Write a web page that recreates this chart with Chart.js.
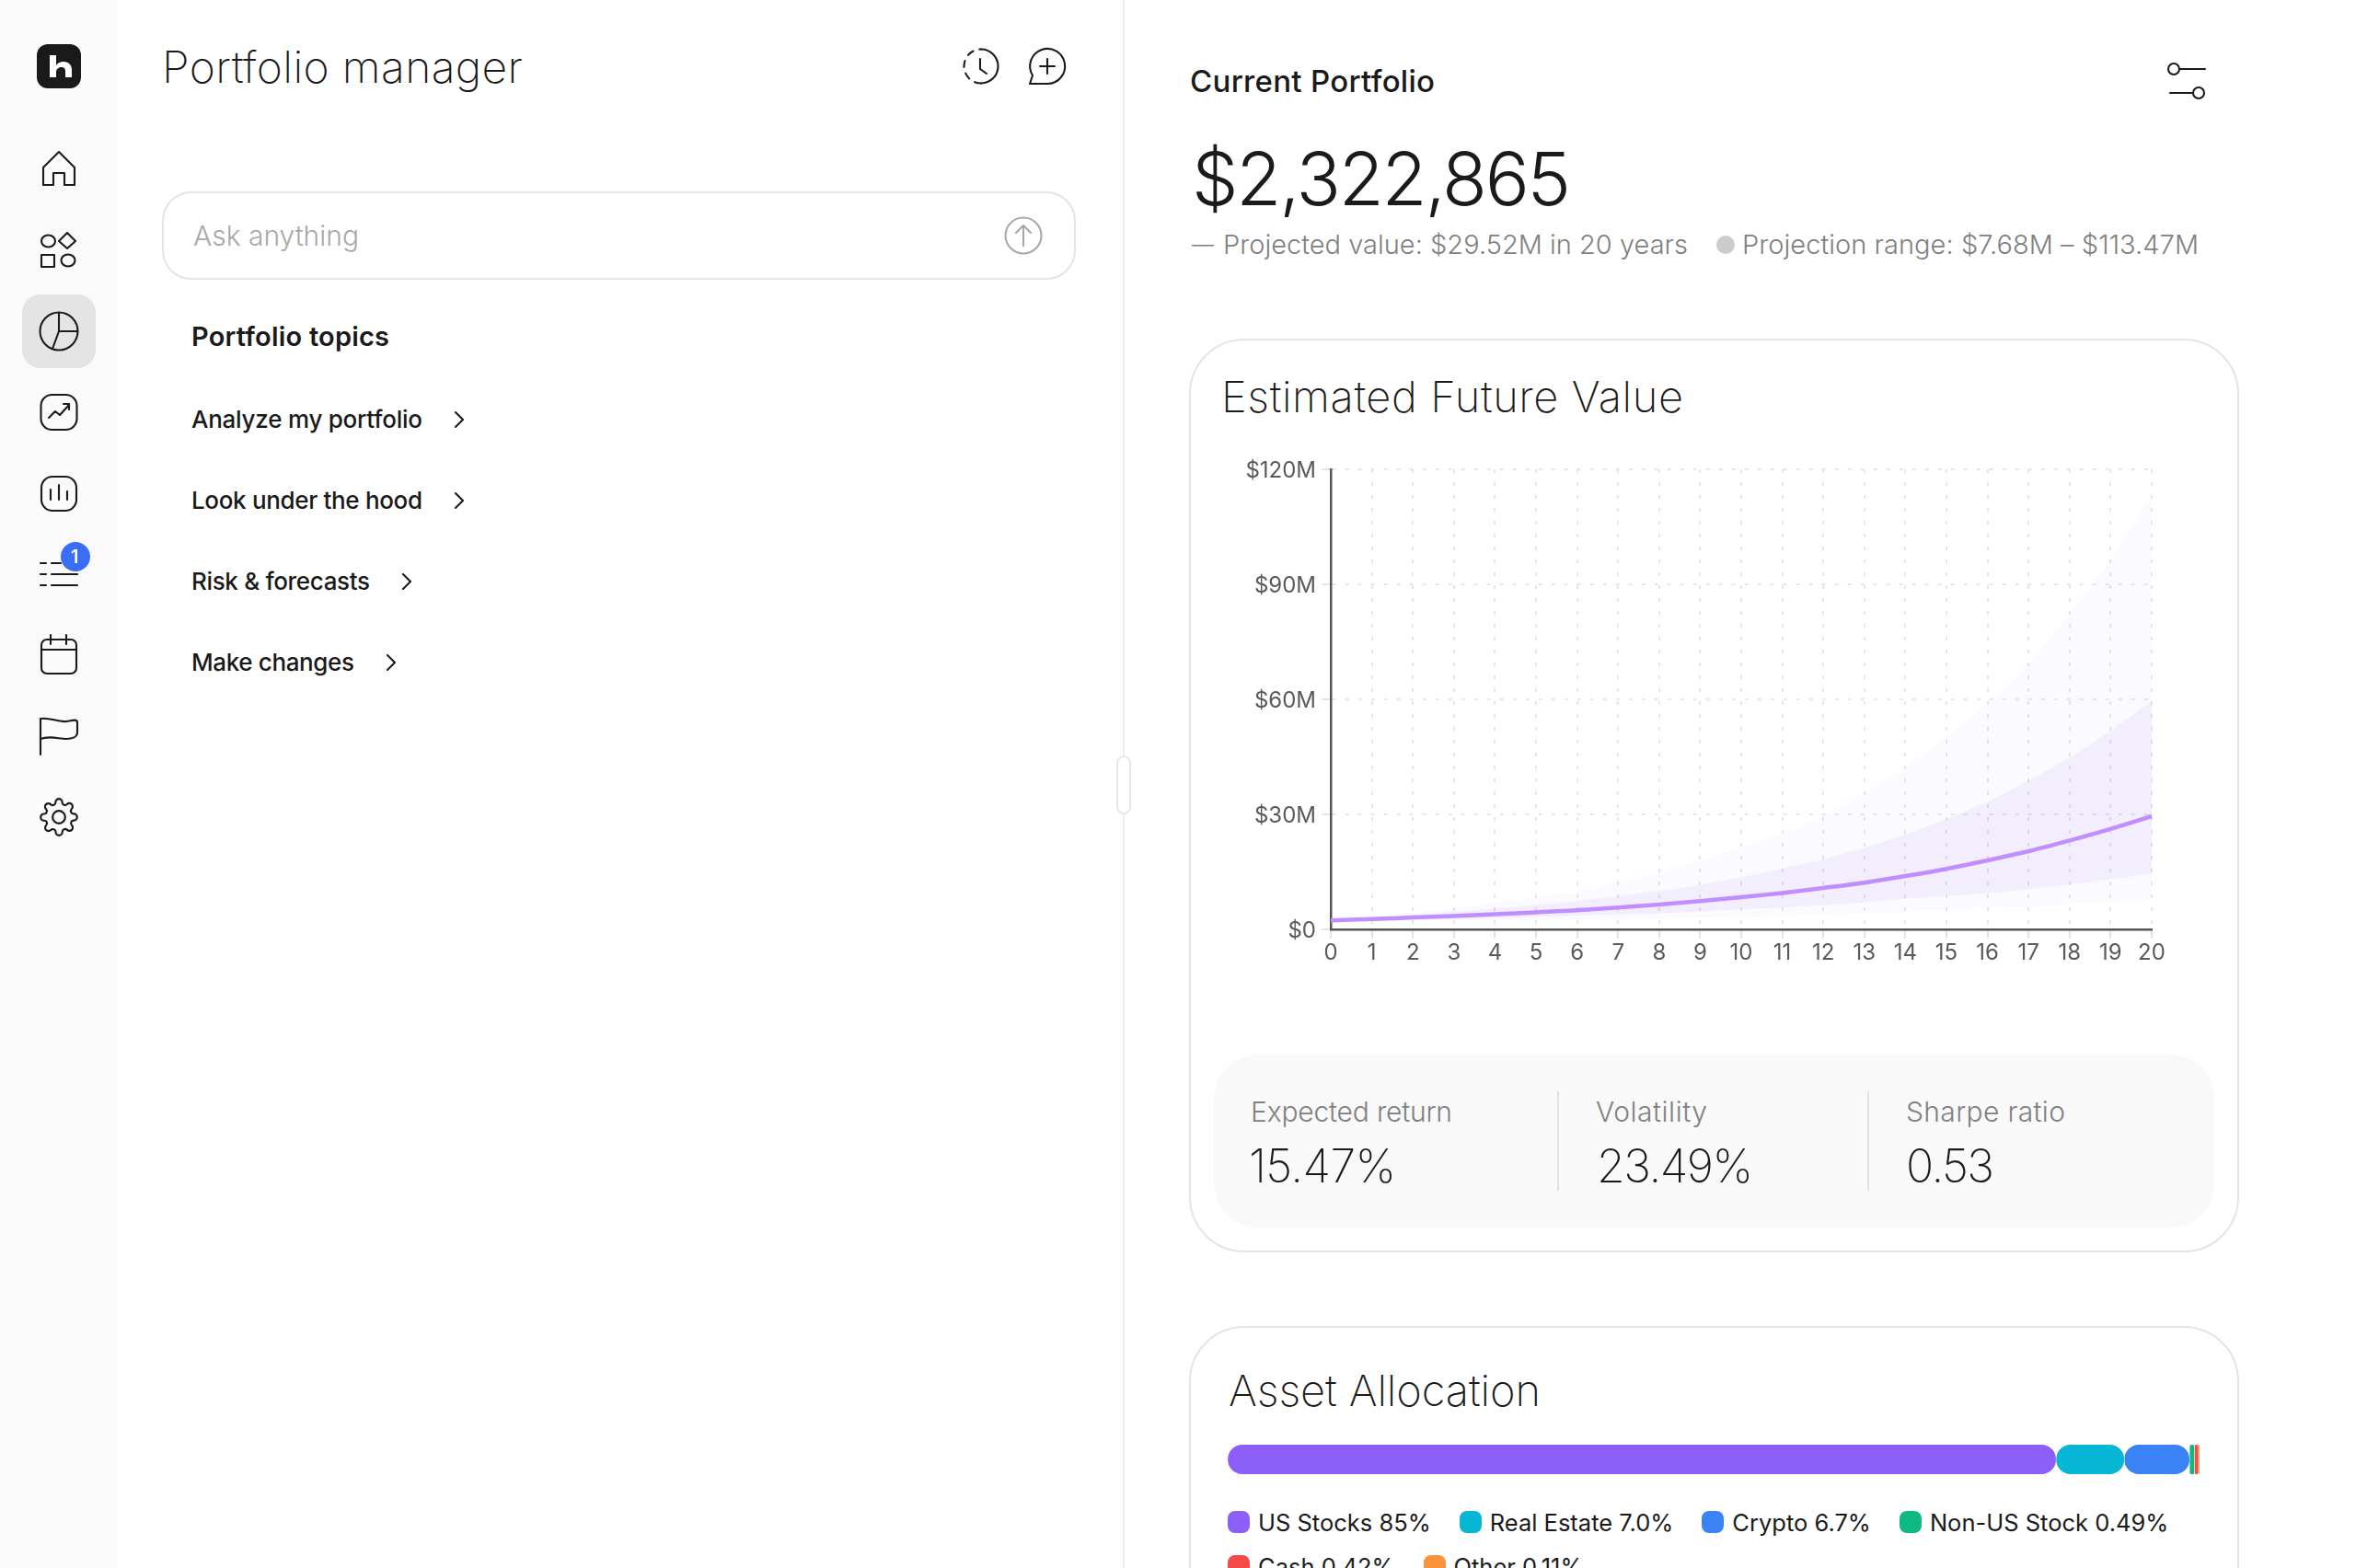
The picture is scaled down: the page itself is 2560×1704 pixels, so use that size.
<!DOCTYPE html>
<html>
<head>
<meta charset="utf-8">
<title>Portfolio manager</title>
<script src="https://cdn.jsdelivr.net/npm/chart.js@4/dist/chart.umd.js"></script>
<style>
html, body { margin: 0; padding: 0; background: #fff; }
body { position: relative; width: 2560px; height: 1704px; overflow: hidden; font-family: Inter, "Noto Sans", sans-serif; color: #1a1a1a; }
.box { position: absolute; box-sizing: border-box; }
.t { position: absolute; white-space: nowrap; transform: translateY(-50%); line-height: 1.2; }
canvas { position: absolute; }
#icons { position: absolute; left: 0; top: 0; }
#icons * { fill: none; stroke: #1a1a1a; stroke-width: 2.1; stroke-linecap: round; stroke-linejoin: round; }
#legend { position: absolute; left: 1334px; top: 1642px; width: 1070px; display: flex; flex-wrap: wrap; row-gap: 24px; column-gap: 31px; }
.item { display: flex; align-items: center; height: 24px; font-size: 25.5px; white-space: nowrap; }
.swatch { width: 24px; height: 24px; border-radius: 8px; margin-right: 9px; }
</style>
</head>
<body>
<div class="box" style="left:0;top:0;width:128px;height:1704px;background:#fafafa"></div>
<div class="box" style="left:1220px;top:0;width:2px;height:1704px;background:#ececec"></div>
<div class="box" style="left:1213px;top:821px;width:16px;height:64px;background:#fff;border:2px solid #e8e8e8;border-radius:8px"></div>
<div class="box" style="left:24px;top:320px;width:80px;height:80px;background:#e4e4e4;border-radius:20px"></div>
<div class="box" style="left:40px;top:48px;width:48px;height:48px;background:#1a1a1a;border-radius:12px"></div>

<div class="t" data-w="392" style="left:176px;top:73px;font-size:48px;font-weight:200">Portfolio manager</div>
<div class="box" style="left:176px;top:208px;width:993px;height:96px;border:2px solid #e4e4e4;border-radius:32px"></div>
<div class="t" data-w="180" style="left:210px;top:256px;font-size:30px;font-weight:300;color:#a8a8a8">Ask anything</div>
<div class="t" data-w="215" style="left:208px;top:366px;font-size:29px;font-weight:600">Portfolio topics</div>
<div class="t" data-w="251" style="left:208px;top:456px;font-size:26px;font-weight:500">Analyze my portfolio</div>
<div class="t" data-w="251" style="left:208px;top:544px;font-size:26px;font-weight:500">Look under the hood</div>
<div class="t" data-w="194" style="left:208px;top:632px;font-size:26px;font-weight:500">Risk &amp; forecasts</div>
<div class="t" data-w="177" style="left:208px;top:720px;font-size:26px;font-weight:500">Make changes</div>

<div class="t" data-w="266" style="left:1293px;top:89px;font-size:33px;font-weight:500">Current Portfolio</div>
<div class="t" data-w="412" style="left:1295px;top:194px;font-size:80px;font-weight:300">$2,322,865</div>
<div class="t" style="left:1295px;top:266px;font-size:24px;font-weight:300;color:#808080">—</div>
<div class="t" data-w="505" style="left:1329px;top:266px;font-size:29px;font-weight:300;color:#808080">Projected value: $29.52M in 20 years</div>
<div class="box" style="left:1865px;top:256px;width:20px;height:20px;border-radius:50%;background:#cccccc"></div>
<div class="t" data-w="496" style="left:1893px;top:266px;font-size:29px;font-weight:300;color:#808080">Projection range: $7.68M – $113.47M</div>

<div class="box" style="left:1292px;top:368px;width:1141px;height:993px;border:2px solid #e4e4e4;border-radius:60px"></div>
<div class="t" data-w="502" style="left:1327px;top:431px;font-size:47px;font-weight:200">Estimated Future Value</div>
<canvas id="futureChart" width="1100" height="620" style="left:1320px;top:470px"></canvas>

<div class="box" style="left:1319px;top:1146px;width:1087px;height:188px;background:#f9f9f9;border-radius:48px"></div>
<div class="box" style="left:1692px;top:1186px;width:2px;height:108px;background:#e2e2e2"></div>
<div class="box" style="left:2029px;top:1186px;width:2px;height:108px;background:#e2e2e2"></div>
<div class="t" data-w="219" style="left:1359px;top:1208px;font-size:30px;font-weight:300;color:#808080">Expected return</div>
<div class="t" data-w="160" style="left:1357px;top:1267px;font-size:50px;font-weight:200">15.47%</div>
<div class="t" data-w="121" style="left:1734px;top:1208px;font-size:30px;font-weight:300;color:#808080">Volatility</div>
<div class="t" data-w="170" style="left:1735px;top:1267px;font-size:50px;font-weight:200">23.49%</div>
<div class="t" data-w="173" style="left:2071px;top:1208px;font-size:30px;font-weight:300;color:#808080">Sharpe ratio</div>
<div class="t" data-w="96" style="left:2071px;top:1267px;font-size:50px;font-weight:200">0.53</div>

<div class="box" style="left:1292px;top:1441px;width:1141px;height:400px;border:2px solid #e4e4e4;border-radius:60px"></div>
<div class="t" data-w="339" style="left:1335px;top:1511px;font-size:47px;font-weight:200">Asset Allocation</div>
<canvas id="allocationChart" width="1056" height="32" style="left:1334px;top:1570px"></canvas>
<div id="legend"></div>

<svg id="icons" width="2560" height="1704" viewBox="0 0 2560 1704">
  <path d="M54 84V60h7v11c2-3 5-4 8-4 6 0 9 4 9 9v8h-7v-7c0-3-2-4-4-4-3 0-6 2-6 5v6z" style="fill:#fff;stroke:none"/>
  <path d="M47 201V182L64 165 81 182V201H70V188H58V201Z"/>
  <ellipse cx="52.500" cy="262" rx="7.500" ry="6.500"/><path d="M73 253l9 9-9 8-9-8z"/>
  <rect x="45" y="277" width="14" height="13"/><ellipse cx="74" cy="283" rx="7.500" ry="6.500"/>
  <circle cx="64" cy="360" r="20.500"/><path d="M64 340V360H84M64 360L57 379"/>
  <rect x="44.500" y="429" width="39" height="38" rx="12"/><path d="M53 454l7-7 5 4 10-11M69 439h6v6"/>
  <rect x="45" y="518" width="38" height="37" rx="12"/><path d="M55 532v11M64 527v16M73 534v9"/>
  <path d="M44 612h6M56 612h10M44 624h6M56 624h28M44 636h6M56 636h28"/>
  <rect x="45" y="695" width="38" height="37" rx="6"/><path d="M45 706H83M55 690V700M72 690V700"/>
  <path d="M44 820V781C54 779 62 785 72 784 78 783 84 781 84 785V796C84 801 78 803 72 803 64 803 54 799 44 803"/>
  <g transform="translate(42.400 866.400) scale(1.8)"><circle cx="12" cy="12" r="3.800" style="stroke-width:1.2"/><path style="stroke-width:1.2" d="M19.400 15a1.650 1.650 0 0 0 .33 1.820l.06.06a2 2 0 0 1 0 2.830 2 2 0 0 1-2.830 0l-.06-.06a1.650 1.650 0 0 0-1.820-.33 1.650 1.650 0 0 0-1 1.510V21a2 2 0 0 1-2 2 2 2 0 0 1-2-2v-.09A1.650 1.650 0 0 0 9 19.400a1.650 1.650 0 0 0-1.820.33l-.06.06a2 2 0 0 1-2.830 0 2 2 0 0 1 0-2.830l.06-.06a1.650 1.650 0 0 0 .33-1.820 1.650 1.650 0 0 0-1.510-1H3a2 2 0 0 1-2-2 2 2 0 0 1 2-2h.09A1.650 1.650 0 0 0 4.600 9a1.650 1.650 0 0 0-.33-1.820l-.06-.06a2 2 0 0 1 0-2.830 2 2 0 0 1 2.830 0l.06.06a1.650 1.650 0 0 0 1.820.33H9a1.650 1.650 0 0 0 1-1.510V3a2 2 0 0 1 2-2 2 2 0 0 1 2 2v.09a1.650 1.650 0 0 0 1 1.510 1.650 1.650 0 0 0 1.820-.33l.06-.06a2 2 0 0 1 2.830 0 2 2 0 0 1 0 2.830l-.06.06a1.650 1.650 0 0 0-.33 1.820V9a1.650 1.650 0 0 0 1.510 1H21a2 2 0 0 1 2 2 2 2 0 0 1-2 2h-.09a1.650 1.650 0 0 0-1.510 1z"/></g>
  <path d="M1066 53.500A18.500 18.500 0 0 1 1066 90.500"/>
  <path d="M1066 90.500A18.500 18.500 0 0 1 1066 53.500" style="stroke-dasharray:7 7"/>
  <path d="M1065 64V75L1072 80"/>
  <path d="M1138 91H1119L1122 82A19 19 0 1 1 1138 91ZM1138 64V80M1130 72H1146"/>
  <circle cx="1112" cy="256" r="19.500" style="stroke:#a8a8a8"/><path d="M1112 267V245M1104 253L1112 245 1120 253" style="stroke:#a8a8a8"/>
  <path d="M495 448L503 456 495 464M495 536L503 544 495 552M438 624L446 632 438 640M421 712L429 720 421 728"/>
  <circle cx="2362" cy="75" r="6"/><path d="M2368 75H2396M2358 101H2382"/><circle cx="2389" cy="101" r="6"/>
</svg>
<div class="box" style="left:66px;top:589px;width:32px;height:32px;border-radius:50%;background:#3b6ef6"></div>
<div class="t" style="left:77px;top:605px;font-size:20px;font-weight:600;color:#fff">1</div>

<script>
const years = ['0','1','2','3','4','5','6','7','8','9','10','11','12','13','14','15','16','17','18','19','20'];
const yTickLabels = ['$0','$30M','$60M','$90M','$120M'];
const projected = [2.32,2.7,3.1,3.5,3.95,4.45,5.0,5.7,6.5,7.4,8.4,9.5,10.8,12.2,13.9,15.8,18.0,20.4,23.2,26.2,29.52];
const innerUpper = [2.32,3.0,3.8,4.6,5.4,6.4,7.4,8.7,10.0,11.6,13.6,15.9,18.3,21.3,24.7,28.8,33.3,38.8,44.8,51.9,59.6];
const innerLower = [2.32,2.45,2.6,2.8,3.0,3.3,3.6,3.9,4.2,4.7,5.2,5.7,6.3,7.1,8.0,8.7,9.4,10.5,11.7,13.1,14.6];
const outerUpper = [2.32,3.2,4.4,5.6,7.0,8.4,10.0,12.4,15.0,18.0,21.4,25.1,29.8,35.7,42.3,50.2,58.8,69.3,82.5,96.7,113.47];
const outerLower = [2.32,2.3,2.3,2.3,2.35,2.4,2.5,2.6,2.8,3.0,3.2,3.5,3.9,4.2,4.5,5.0,5.4,5.9,6.5,7.1,7.68];

const allocationLabels = ['US Stocks','Real Estate','Crypto','Non-US Stock','Cash','Other'];
const allocationText = ['85%','7.0%','6.7%','0.49%','0.42%','0.11%'];
const allocationValues = [85,7.0,6.7,0.49,0.42,0.11];
const allocationColors = ['#8b5ff8','#06b6d4','#3b82f6','#10b981','#f54a4a','#fb923c'];

// squeeze or stretch the text to the measured width of the reference
function fitText() {
    document.querySelectorAll('.t[data-w]').forEach(function (el) {
        const target = parseFloat(el.dataset.w);
        const gap = (target - el.getBoundingClientRect().width) / (el.textContent.length - 1);
        el.style.letterSpacing = gap.toFixed(3) + 'px';
    });
}

function band(data, fill, color) {
    return {
        data: data,
        fill: fill,
        backgroundColor: color,
        borderWidth: 0,
        pointRadius: 0,
        cubicInterpolationMode: 'monotone'
    };
}

new Chart(document.getElementById('futureChart'), {
    type: 'line',
    data: {
        labels: years,
        datasets: [
            {
                label: 'Projected value',
                data: projected,
                borderColor: '#c08eff',
                borderWidth: 4.5,
                pointRadius: 0,
                fill: false,
                cubicInterpolationMode: 'monotone'
            },
            band(innerUpper, '+1', 'rgba(139, 92, 246, 0.07)'),
            band(innerLower, false, 'transparent'),
            band(outerUpper, '+1', 'rgba(139, 92, 246, 0.03)'),
            band(outerLower, false, 'transparent')
        ]
    },
    options: {
        responsive: false,
        animation: false,
        devicePixelRatio: 1,
        layout: { padding: { top: 40, right: 82, left: 0, bottom: 0 } },
        plugins: { legend: { display: false }, tooltip: { enabled: false } },
        scales: {
            x: {
                offset: false,
                afterFit: function (scale) { scale.height = 80; },
                border: { color: '#555555', width: 2.5, dash: [4, 10] },
                grid: { color: '#e6e6e6', lineWidth: 2, tickLength: 10, tickColor: '#e4e4e4', tickBorderDash: [] },
                ticks: { color: '#5a5a5a', font: { family: 'Inter', size: 24 }, padding: 1, maxRotation: 0, autoSkip: false }
            },
            y: {
                min: 0,
                max: 120,
                afterFit: function (scale) { scale.width = 126; },
                border: { color: '#555555', width: 2.5, dash: [4, 10] },
                grid: { color: '#e6e6e6', lineWidth: 2, tickLength: 10, tickColor: '#e4e4e4' },
                ticks: {
                    stepSize: 30,
                    color: '#5a5a5a',
                    font: { family: 'Inter', size: 24 },
                    padding: 6,
                    labelOffset: 2,
                    callback: function (value, index) { return yTickLabels[index]; }
                }
            }
        }
    }
});

const corners = { topLeft: 16, topRight: 16, bottomLeft: 16, bottomRight: 16 };
new Chart(document.getElementById('allocationChart'), {
    type: 'bar',
    data: {
        labels: ['Allocation'],
        datasets: allocationLabels.map(function (name, i) {
            return {
                label: name,
                data: [allocationValues[i]],
                backgroundColor: allocationColors[i],
                borderColor: '#ffffff',
                borderWidth: { left: 0.5, right: 0.5, top: 0, bottom: 0 },
                borderSkipped: false,
                borderRadius: corners,
                barPercentage: 1,
                categoryPercentage: 1
            };
        })
    },
    options: {
        indexAxis: 'y',
        responsive: false,
        animation: false,
        devicePixelRatio: 1,
        plugins: { legend: { display: false }, tooltip: { enabled: false } },
        scales: {
            x: { display: false, stacked: true, min: 0, max: allocationValues.reduce((a, b) => a + b) },
            y: { display: false, stacked: true }
        }
    }
});

const legend = document.getElementById('legend');
allocationLabels.forEach(function (name, i) {
    const item = document.createElement('div');
    item.className = 'item';
    const swatch = document.createElement('div');
    swatch.className = 'swatch';
    swatch.style.background = allocationColors[i];
    item.appendChild(swatch);
    item.appendChild(document.createTextNode(name + ' ' + allocationText[i]));
    legend.appendChild(item);
});

fitText();
</script>
</body>
</html>
